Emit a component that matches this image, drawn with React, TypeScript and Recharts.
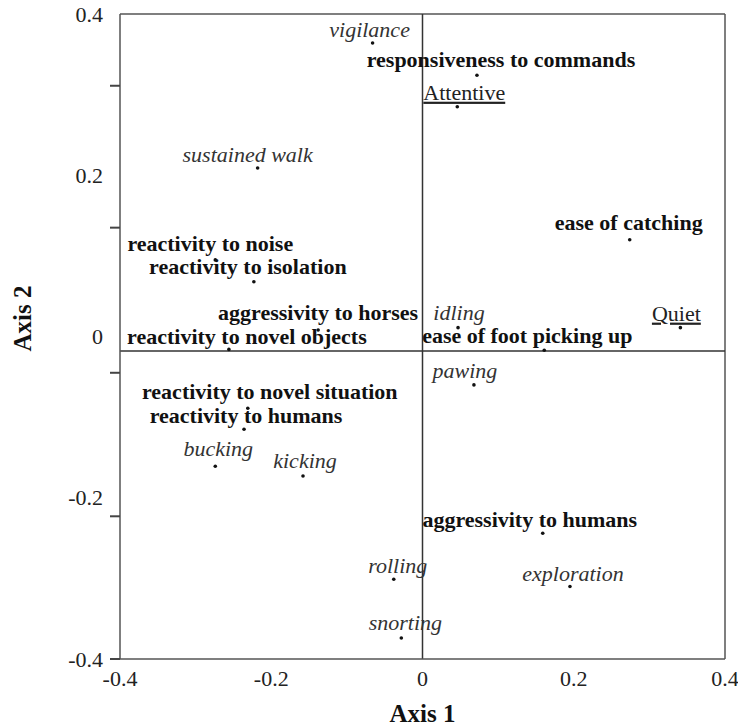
import React from "react";
import {
  ScatterChart,
  Scatter,
  XAxis,
  YAxis,
  ReferenceLine,
  Label,
} from "recharts";

// Carte factorielle (axes 1 et 2) : variables des tests, comportements et profils.

const variables = [
  "vigilance",
  "responsiveness to commands",
  "Attentive",
  "sustained walk",
  "ease of catching",
  "reactivity to noise",
  "reactivity to isolation",
  "aggressivity to horses",
  "reactivity to novel objects",
  "idling",
  "Quiet",
  "ease of foot picking up",
  "pawing",
  "reactivity to novel situation",
  "reactivity to humans",
  "bucking",
  "kicking",
  "aggressivity to humans",
  "rolling",
  "exploration",
  "snorting",
];

const axis1 = [
  -0.066, 0.072, 0.046, -0.218, 0.274, -0.274, -0.223, -0.138, -0.256, 0.047,
  0.341, 0.161, 0.068, -0.231, -0.236, -0.274, -0.158, 0.159, -0.038, 0.195,
  -0.028,
];

const axis2 = [
  0.364, 0.324, 0.285, 0.209, 0.12, 0.095, 0.068, 0.008, -0.016, 0.011, 0.011,
  -0.017, -0.06, -0.089, -0.115, -0.161, -0.173, -0.244, -0.301, -0.31, -0.374,
];

// test = variable de test (gras), behaviour = comportement (italique), group = profil (souligné)
const kinds = [
  "behaviour", "test", "group", "behaviour", "test", "test", "test", "test",
  "test", "behaviour", "group", "test", "behaviour", "test", "test",
  "behaviour", "behaviour", "test", "behaviour", "behaviour", "behaviour",
];

const xTicks = [-0.4, -0.2, 0, 0.2, 0.4];
const yLabelTicks = [0.4, 0.2, 0, -0.2, -0.4];
const yTickMarks = [0.311, 0.135, -0.045, -0.223, -0.4];
// position de la ligne horizontale telle qu'elle est tracée sur la figure
const hAxisAt = -0.018;

const data = variables.map((name, i) => ({
  name,
  x: axis1[i],
  y: axis2[i],
  kind: kinds[i],
}));

// décalage des étiquettes par rapport au point (px)
const labelShift: Record<string, [number, number]> = {
  vigilance: [-3, -6],
  "responsiveness to commands": [24, -8],
  Attentive: [7, -7],
  "sustained walk": [-10, -6],
  "ease of catching": [-1, -10],
  "reactivity to noise": [-5, -9],
  "reactivity to isolation": [-6, -8],
  "aggressivity to horses": [0, -10],
  "reactivity to novel objects": [18, -5],
  idling: [1, -8],
  Quiet: [-4, -7],
  "ease of foot picking up": [-17, -7],
  pawing: [-9, -7],
  "reactivity to novel situation": [22, -9],
  "reactivity to humans": [2, -6],
  bucking: [3, -10],
  kicking: [2, -8],
  "aggressivity to humans": [-13, -6],
  rolling: [4, -6],
  exploration: [3, -5],
  snorting: [4, -8],
};

const FONT = "'Liberation Serif', 'Times New Roman', serif";

const kindStyle: Record<string, React.CSSProperties> = {
  test: { fontWeight: 700, fill: "#111" },
  behaviour: { fontStyle: "italic", fill: "#333" },
  group: { textDecoration: "underline", fill: "#222" },
};

function Point(props: any) {
  const { cx, cy, payload } = props;
  const [dx, dy] = labelShift[payload.name] ?? [0, -7];
  return (
    <g>
      <circle cx={cx} cy={cy} r={1.8} fill="#111" />
      <text
        x={cx + dx}
        y={cy + dy}
        textAnchor="middle"
        fontFamily={FONT}
        fontSize={22}
        style={kindStyle[payload.kind]}
      >
        {payload.name}
      </text>
    </g>
  );
}

function YTick(props: any) {
  const { x, y, payload } = props;
  const v = payload.value;
  return (
    <g>
      {yTickMarks.includes(v) && (
        <line x1={x + 7} x2={x + 17} y1={y} y2={y} stroke="#444" strokeWidth={2} />
      )}
      {yLabelTicks.includes(v) && (
        <text
          x={x}
          y={y}
          dy="0.35em"
          textAnchor="end"
          fontFamily={FONT}
          fontSize={22}
          fill="#222"
        >
          {String(v)}
        </text>
      )}
    </g>
  );
}

function YTitle(props: any) {
  const { viewBox } = props;
  const x = viewBox.x + 31;
  const y = viewBox.y + viewBox.height / 2 - 18;
  return (
    <text
      x={x}
      y={y}
      transform={`rotate(-90, ${x}, ${y})`}
      textAnchor="middle"
      fontFamily={FONT}
      fontSize={25}
      fontWeight={700}
      fill="#111"
    >
      Axis 2
    </text>
  );
}

export default function App() {
  const yTicks = Array.from(new Set([...yLabelTicks, ...yTickMarks])).sort(
    (a, b) => a - b
  );
  return (
    <div style={{ position: "absolute", left: 0, top: 0, background: "#fff" }}>
      <ScatterChart
        width={738}
        height={727}
        margin={{ top: 14, right: 13, bottom: 0, left: 0 }}
      >
        <XAxis
          type="number"
          dataKey="x"
          domain={[-0.4, 0.4]}
          ticks={xTicks}
          interval={0}
          tickLine={false}
          tickSize={5}
          tickMargin={6}
          height={68}
          axisLine={{ stroke: "#555", strokeWidth: 1.5 }}
          tick={{ fontFamily: FONT, fontSize: 22, fill: "#222" }}
          tickFormatter={(v: number) => String(v)}
        >
          <Label
            value="Axis 1"
            position="insideBottom"
            offset={5}
            fontFamily={FONT}
            fontSize={25}
            fontWeight={700}
            fill="#111"
          />
        </XAxis>
        <YAxis
          type="number"
          dataKey="y"
          domain={[-0.4, 0.4]}
          ticks={yTicks}
          interval={0}
          tickLine={false}
          tickSize={10}
          tickMargin={7}
          width={120}
          axisLine={{ stroke: "#555", strokeWidth: 1.5 }}
          tick={<YTick />}
        >
          <Label content={<YTitle />} />
        </YAxis>
        <ReferenceLine y={0.4} stroke="#555" strokeWidth={1.5} />
        <ReferenceLine x={0.4} stroke="#555" strokeWidth={1.5} />
        <ReferenceLine x={0} stroke="#333" strokeWidth={1.5} />
        <ReferenceLine y={hAxisAt} stroke="#333" strokeWidth={1.5} />
        <Scatter data={data} shape={<Point />} isAnimationActive={false} />
      </ScatterChart>
    </div>
  );
}
